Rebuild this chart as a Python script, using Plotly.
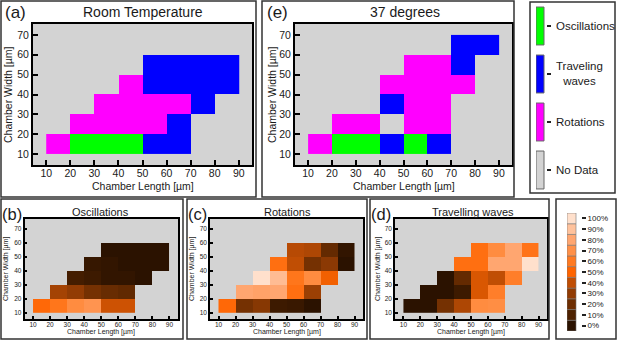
import plotly.graph_objects as go

W, H = 617, 342

# ---------------- data ----------------
x_centers = [15, 25, 35, 45, 55, 65, 75, 85]
y_centers = [15, 25, 35, 45, 55, 65]
x_ticks = [10, 20, 30, 40, 50, 60, 70, 80, 90]
y_ticks = [10, 20, 30, 40, 50, 60, 70]

N = None
category_names = ["Oscillations", "Traveling waves", "Rotations", "No Data"]
category_labels = ["Oscillations", "Traveling<br>waves", "Rotations", "No Data"]
category_colors = ["#00ff00", "#0000ff", "#ff00ff", "#d3d3d3"]
# codes: 1 = Oscillations, 2 = Traveling waves, 3 = Rotations, None = No Data
room_temp = [
    [3, 1, 1, 1, 2, 2, N, N],
    [N, 3, 3, 3, 3, 2, N, N],
    [N, N, 3, 3, 3, 3, 2, N],
    [N, N, N, 3, 2, 2, 2, 2],
    [N, N, N, N, 2, 2, 2, 2],
    [N, N, N, N, N, N, N, N],
]
deg37 = [
    [3, 1, 1, 2, 1, 2, N, N],
    [N, 3, 3, N, 3, 3, N, N],
    [N, N, N, 2, 3, 3, N, N],
    [N, N, N, 3, 3, 3, 3, N],
    [N, N, N, N, 3, 3, 2, N],
    [N, N, N, N, N, N, 2, 2],
]

# fractions in percent
oscillations = [
    [52, 58, 68, 72, 42, 42, N, N],
    [N, 34, 30, 22, 18, 16, N, N],
    [N, N, 7, 5, 2, 2, 0, N],
    [N, N, N, 3, 2, 0, 0, 0],
    [N, N, N, N, 0, 0, 0, 0],
    [N, N, N, N, N, N, N, N],
]
rotations = [
    [52, 22, 27, 5, 4, 0, N, N],
    [N, 80, 78, 80, 55, 32, N, N],
    [N, N, 100, 88, 58, 68, 48, N],
    [N, N, N, 55, 40, 22, 28, 0],
    [N, N, N, N, 38, 36, 17, 2],
    [N, N, N, N, N, N, N, N],
]
travelling = [
    [0, 0, 22, 36, 68, 69, N, N],
    [N, 0, 0, 5, 44, 62, N, N],
    [N, N, 0, 17, 44, 40, 62, N],
    [N, N, N, 55, 55, 80, 80, 100],
    [N, N, N, N, 55, 68, 80, 57],
    [N, N, N, N, N, N, N, N],
]

pct_levels = [0, 10, 20, 30, 40, 50, 60, 70, 80, 90, 100]
pct_labels = ["0%", "10%", "20%", "30%", "40%", "50%", "60%", "70%", "80%", "90%", "100%"]
pct_colors = ["#2b1200", "#4e2200", "#6e2e02", "#923c04", "#c04e04", "#ff6400",
              "#ff7a22", "#ff9048", "#ffa670", "#ffc29c", "#ffe0cc"]

GRAY = "#d3d3d3"
FONT = "Arial"
TXT = "#1a1a1a"


def fx(px):
    return px / W


def fy(py):
    return 1 - py / H


cat_scale = [[0, category_colors[0]], [1 / 3, category_colors[0]],
             [1 / 3, category_colors[1]], [2 / 3, category_colors[1]],
             [2 / 3, category_colors[2]], [1, category_colors[2]]]
pct_scale = [[i / 10, c] for i, c in enumerate(pct_colors)]

fig = go.Figure()

panels = [
    # (axis suffix, z, is categorical, x domain px, y domain px, big)
    ("", room_temp, True, (33, 252), (24, 165), True),
    ("2", deg37, True, (295, 512), (24, 165), True),
    ("3", oscillations, False, (24.5, 178), (219, 319), False),
    ("4", rotations, False, (210, 363), (219, 319), False),
    ("5", travelling, False, (395, 547), (219, 319), False),
]

layout_axes = {}
shapes = []
for suf, z, cat, xd, yd, big in panels:
    if cat:
        tr = go.Heatmap(x=x_centers, y=y_centers, z=z, colorscale=cat_scale,
                        zmin=0.5, zmax=3.5, showscale=False, hoverongaps=False,
                        xaxis="x" + suf, yaxis="y" + suf)
    else:
        tr = go.Heatmap(x=x_centers, y=y_centers, z=z, colorscale=pct_scale,
                        zmin=0, zmax=100, showscale=False, hoverongaps=False,
                        xaxis="x" + suf, yaxis="y" + suf)
    fig.add_trace(tr)
    tick_font = dict(size=10.5 if big else 6.5, color=TXT, family=FONT)
    common = dict(showgrid=False, zeroline=False, showline=True, mirror=True,
                  linecolor="#000", linewidth=2 if big else 1.5,
                  ticks="inside", ticklen=5 if big else 3,
                  tickwidth=2 if big else 1.5, tickcolor="#000",
                  tickfont=tick_font, fixedrange=True)
    layout_axes["xaxis" + suf] = dict(
        domain=[fx(xd[0]), fx(xd[1])],
        range=[4.5, 95.5] if big else [5, 95],
        tickvals=x_ticks, anchor="y" + suf, ticklabelstandoff=-3 if big else -2,
        **common)
    layout_axes["yaxis" + suf] = dict(
        domain=[fy(yd[1]), fy(yd[0])],
        range=[4.5, 75.5] if big else [5.5, 77],
        tickvals=y_ticks, anchor="x" + suf, **common)
    shapes.append(dict(type="rect", xref="x" + suf + " domain",
                       yref="y" + suf + " domain",
                       x0=0, x1=1, y0=0, y1=1, fillcolor=GRAY,
                       line=dict(width=0), layer="below"))

# legend for categories
fig.add_trace(go.Bar(x=[1] * 4, y=list(range(4)), orientation="h", width=0.79,
                     marker=dict(color=category_colors, line=dict(color="#666", width=1)),
                     xaxis="x6", yaxis="y6", showlegend=False, hoverinfo="skip"))
layout_axes["xaxis6"] = dict(domain=[fx(536), fx(546)], range=[0, 1.25], visible=False,
                             anchor="y6", fixedrange=True)
layout_axes["yaxis6"] = dict(domain=[fy(194), fy(2)], range=[3.5, -0.5], anchor="x6",
                             side="right", showgrid=False, zeroline=False, showline=False,
                             ticks="outside", ticklen=4, tickwidth=2, tickcolor="#222",
                             tickvals=list(range(4)), showticklabels=False, fixedrange=True)

# colour key for percentages
fig.add_trace(go.Bar(x=[1] * len(pct_levels), y=pct_levels, orientation="h", width=10,
                     marker=dict(color=pct_levels, colorscale=pct_scale, cmin=0, cmax=100,
                                 line=dict(color="#777", width=0.6)),
                     xaxis="x7", yaxis="y7", showlegend=False, hoverinfo="skip"))
layout_axes["xaxis7"] = dict(domain=[fx(567), fx(581)], range=[0, 1.55], visible=False,
                             anchor="y7", fixedrange=True)
layout_axes["yaxis7"] = dict(domain=[fy(331), fy(213)], range=[-5, 105], anchor="x7",
                             side="right", showgrid=False, zeroline=False, showline=False,
                             ticks="outside", ticklen=4, tickwidth=2, tickcolor="#222",
                             tickvals=pct_levels, ticktext=pct_labels,
                             tickfont=dict(size=8, color=TXT, family=FONT), fixedrange=True)

# panel frames
for x0, y0, x1, y1 in [(1, 1, 256, 197), (262, 1, 514, 197), (530, 2, 615, 193),
                       (1, 199, 183, 339), (187, 199, 367, 339), (370, 199, 549, 339),
                       (556, 199, 616, 339)]:
    shapes.append(dict(type="rect", xref="paper", yref="paper",
                       x0=fx(x0), x1=fx(x1), y0=fy(y1), y1=fy(y0),
                       line=dict(color="#333", width=1.5), fillcolor="rgba(0,0,0,0)"))

ann = []


def text(x, y, s, size, xanchor="center", angle=0, xref="paper", yref="paper", align="center"):
    ann.append(dict(x=x, y=y, xref=xref, yref=yref, text=s, showarrow=False,
                    xanchor=xanchor, yanchor="middle", textangle=angle, align=align,
                    borderpad=0, font=dict(size=size, color=TXT, family=FONT)))


# big panel titles
text(fx(143), fy(12), "Room Temperature", 14)
text(fx(4), fy(12), "(a)", 17, xanchor="left")
text(fx(405), fy(12), "37 degrees", 14)
text(fx(266), fy(12), "(e)", 17, xanchor="left")
# big axis titles
text(fx(142.5), fy(185.5), "Chamber Length [µm]", 10.5)
text(fx(403.5), fy(185.5), "Chamber Length [µm]", 10.5)
text(fx(8), fy(95), "Chamber Width [µm]", 10.5, angle=-90)
text(fx(272), fy(95), "Chamber Width [µm]", 10.5, angle=-90)
# small panels
text(fx(100), fy(212), "Oscillations", 11)
text(fx(287), fy(212), "Rotations", 11)
text(fx(473), fy(212), "Travelling waves", 11)
text(fx(1), fy(214), "(b)", 16.5, xanchor="left")
text(fx(187), fy(214), "(c)", 16.5, xanchor="left")
text(fx(370), fy(214), "(d)", 16.5, xanchor="left")
for cx, yx in [(101, 6), (286.5, 192), (471, 378)]:
    text(fx(cx), fy(332), "Chamber Length [µm]", 7)
    text(fx(yx), fy(269), "Chamber Width [µm]", 7, angle=-90)
# category legend labels
for i, lab in enumerate(category_labels):
    text(fx(555), i, lab, 11.5, xanchor="left", yref="y6")

fig.update_layout(width=W, height=H, margin=dict(l=0, r=0, t=0, b=0),
                  paper_bgcolor="white", plot_bgcolor="rgba(0,0,0,0)",
                  showlegend=False, shapes=shapes, annotations=ann,
                  font=dict(family=FONT, color=TXT), **layout_axes)

fig.write_html("out.html", config={"displayModeBar": False},
               post_script="document.body.style.margin='0';")
